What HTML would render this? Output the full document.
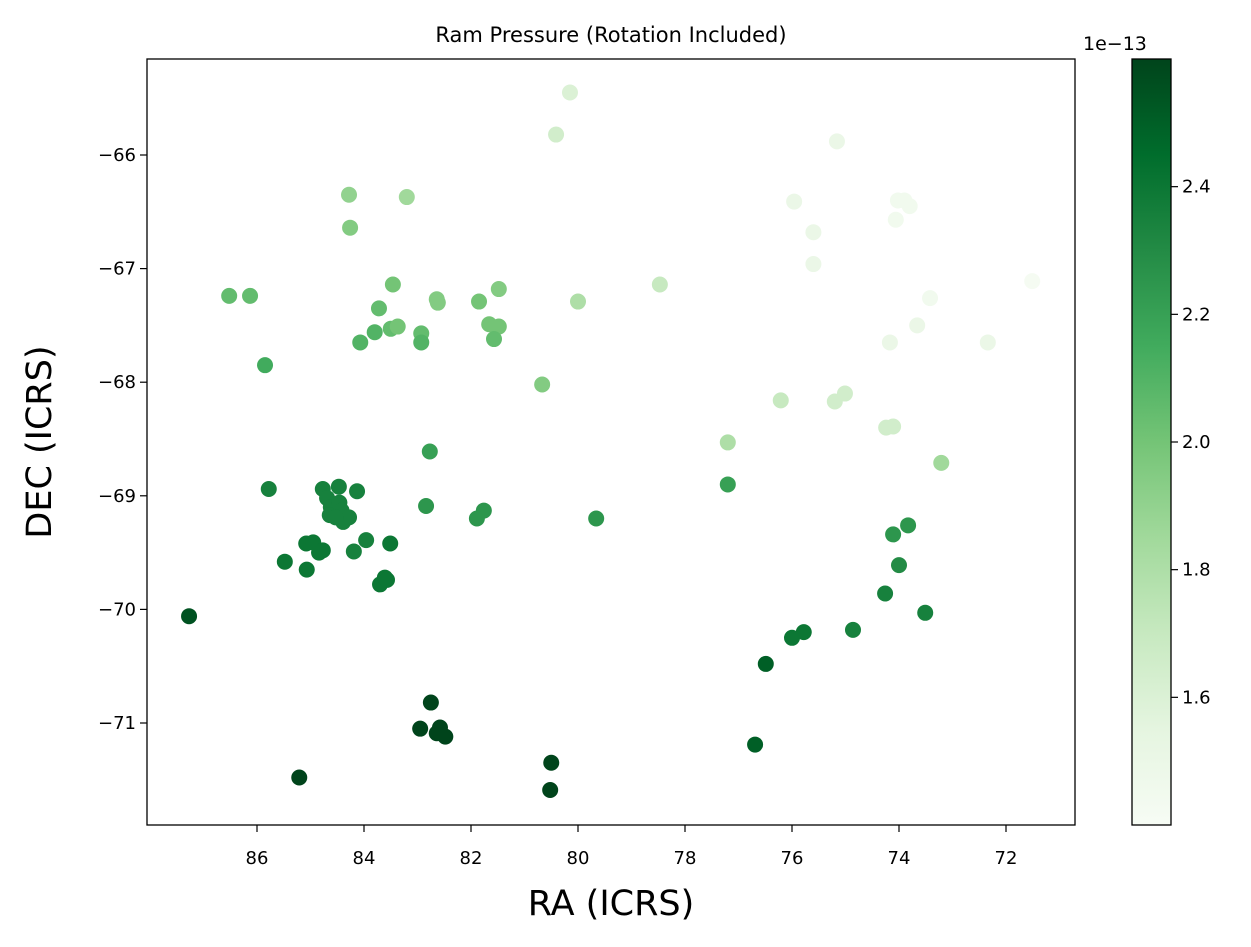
<!DOCTYPE html>
<html><head><meta charset="utf-8">
<style>
body{margin:0;background:#fff;}
svg text{font-family:"DejaVu Sans","Liberation Sans",sans-serif;fill:#000;}
</style></head>
<body>
<svg id="chart" width="1251" height="942" viewBox="0 0 1251 942" xmlns="http://www.w3.org/2000/svg">
<defs>
<linearGradient id="greens" x1="0" y1="1" x2="0" y2="0">
<stop offset="0" stop-color="#f7fcf5"/><stop offset="0.125" stop-color="#e5f5e0"/><stop offset="0.25" stop-color="#c7e9c0"/><stop offset="0.375" stop-color="#a1d99b"/><stop offset="0.5" stop-color="#74c476"/><stop offset="0.625" stop-color="#41ab5d"/><stop offset="0.75" stop-color="#238b45"/><stop offset="0.875" stop-color="#006d2c"/><stop offset="1" stop-color="#00441b"/>
</linearGradient>
</defs>
<text x="611" y="42" font-size="21" text-anchor="middle">Ram Pressure (Rotation Included)</text>
<g id="points"></g>
<rect x="147" y="59" width="928" height="766" fill="none" stroke="#000" stroke-width="1.3"/>
<g id="xticks"></g><g id="yticks"></g>
<text x="611" y="915" font-size="35" text-anchor="middle">RA (ICRS)</text>
<text x="0" y="0" font-size="35" text-anchor="middle" transform="translate(51,442) rotate(-90)">DEC (ICRS)</text>
<rect x="1132" y="59" width="39" height="766" fill="url(#greens)" stroke="#000" stroke-width="1.3"/>
<g id="cticks"></g>
<text x="1083" y="50" font-size="19">1e−13</text>
</svg>
<script>
const ra=[80.15,80.41,75.16,84.28,83.20,84.26,75.96,74.02,73.80,73.9,74.06,75.60,75.60,86.52,86.13,83.46,82.64,82.62,81.48,81.85,80.0,78.47,71.51,73.42,73.66,72.34,74.17,83.72,83.80,83.50,83.37,84.07,82.93,82.93,81.66,81.48,81.57,85.85,80.67,76.21,75.01,75.20,74.24,74.11,77.20,73.21,82.77,85.78,77.20,84.77,84.47,84.13,84.69,84.62,84.64,84.46,84.42,84.39,84.28,84.53,82.84,81.76,81.89,79.66,73.83,74.11,83.96,83.51,85.08,84.95,84.84,84.77,84.19,85.48,85.07,83.70,83.61,83.57,74.0,74.26,73.51,87.27,74.86,75.78,76.0,76.49,82.75,82.95,82.64,82.58,82.48,76.69,85.21,80.50,80.52];
const dec=[-65.45,-65.82,-65.88,-66.35,-66.37,-66.64,-66.41,-66.40,-66.45,-66.4,-66.57,-66.68,-66.96,-67.24,-67.24,-67.14,-67.27,-67.30,-67.18,-67.29,-67.29,-67.14,-67.11,-67.26,-67.50,-67.65,-67.65,-67.35,-67.56,-67.53,-67.51,-67.65,-67.57,-67.65,-67.49,-67.51,-67.62,-67.85,-68.02,-68.16,-68.10,-68.17,-68.40,-68.39,-68.53,-68.71,-68.61,-68.94,-68.90,-68.94,-68.92,-68.96,-69.02,-69.10,-69.17,-69.06,-69.13,-69.23,-69.19,-69.19,-69.09,-69.13,-69.20,-69.20,-69.26,-69.34,-69.39,-69.42,-69.42,-69.41,-69.50,-69.48,-69.49,-69.58,-69.65,-69.78,-69.72,-69.74,-69.61,-69.86,-70.03,-70.06,-70.18,-70.20,-70.25,-70.48,-70.82,-71.05,-71.09,-71.04,-71.12,-71.19,-71.48,-71.35,-71.59];
const pressure=[1.6,1.65,1.5,1.9,1.85,1.95,1.5,1.45,1.45,1.45,1.45,1.5,1.5,2.05,2.05,2.0,1.95,1.95,1.95,2.0,1.8,1.7,1.42,1.45,1.5,1.5,1.5,2.05,2.1,2.05,2.0,2.1,2.05,2.1,2.0,2.0,2.05,2.15,1.95,1.7,1.65,1.65,1.65,1.65,1.8,1.85,2.2,2.35,2.2,2.35,2.35,2.35,2.35,2.35,2.35,2.35,2.35,2.35,2.35,2.35,2.25,2.25,2.25,2.25,2.25,2.25,2.35,2.4,2.4,2.4,2.4,2.4,2.35,2.4,2.4,2.4,2.4,2.4,2.3,2.35,2.35,2.55,2.35,2.4,2.4,2.5,2.6,2.6,2.6,2.6,2.6,2.5,2.6,2.6,2.6];
const xTickVals=[86,84,82,80,78,76,74,72];
const yTickVals=[-66,-67,-68,-69,-70,-71];
const cTickVals=[1.6,1.8,2.0,2.2,2.4];
const vmin=1.40,vmax=2.60;
const NS="http://www.w3.org/2000/svg";
function X(v){return 257+(86-v)*53.5;}
function Y(v){return 155+(-66-v)*113.6;}
function CY(v){return 825-(v-vmin)/(vmax-vmin)*766;}
const stops=["#f7fcf5","#e5f5e0","#c7e9c0","#a1d99b","#74c476","#41ab5d","#238b45","#006d2c","#00441b"];
function hex(h){return [1,3,5].map(i=>parseInt(h.substr(i,2),16));}
function cmap(v){let t=Math.max(0,Math.min(1,(v-vmin)/(vmax-vmin)))*8;let i=Math.min(7,Math.floor(t));let f=t-i;let a=hex(stops[i]),b=hex(stops[i+1]);return "rgb("+a.map((c,k)=>Math.round(c+(b[k]-c)*f)).join(",")+")";}
function mk(tag,attrs,parent){const e=document.createElementNS(NS,tag);for(const k in attrs)e.setAttribute(k,attrs[k]);parent.appendChild(e);return e;}
const pg=document.getElementById("points");
ra.forEach((r,i)=>{const c=mk("circle",{cx:X(r),cy:Y(dec[i]),r:8,fill:cmap(pressure[i])},pg);

});
const xg=document.getElementById("xticks");
xTickVals.forEach(v=>{const l=mk("line",{x1:X(v),x2:X(v),y1:825,y2:832,stroke:"#000","stroke-width":1.2},xg);


const t=mk("text",{x:X(v),y:864,"font-size":18,"text-anchor":"middle"},xg);t.textContent=v;

});
const yg=document.getElementById("yticks");
yTickVals.forEach(v=>{const l=mk("line",{x1:140,x2:147,y1:Y(v),y2:Y(v),stroke:"#000","stroke-width":1.2},yg);


const t=mk("text",{x:136,y:Y(v)+6,"font-size":18,"text-anchor":"end"},yg);t.textContent="\u2212"+Math.abs(v);

});
const cg=document.getElementById("cticks");
cTickVals.forEach(v=>{const l=mk("line",{x1:1171,x2:1178,y1:CY(v),y2:CY(v),stroke:"#000","stroke-width":1.2},cg);


const t=mk("text",{x:1182,y:CY(v)+6,"font-size":18},cg);t.textContent=v.toFixed(1);

});
</script>
</body></html>
